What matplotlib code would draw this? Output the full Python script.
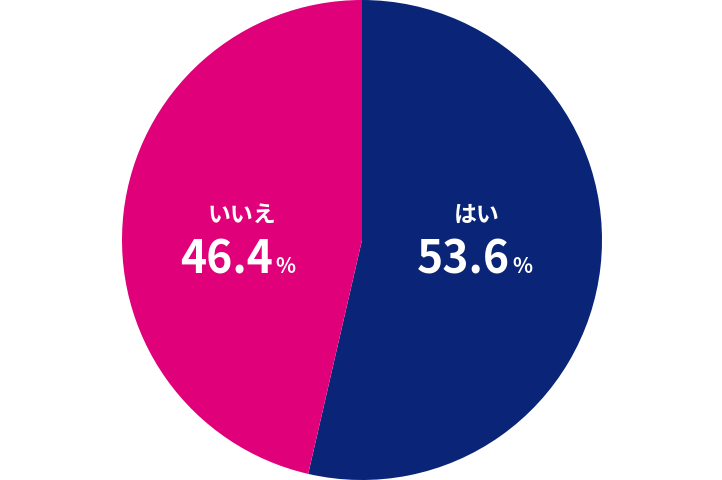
import matplotlib.pyplot as plt

plt.rcParams['font.family'] = ['Noto Sans CJK JP', 'DejaVu Sans']

labels = ['はい', 'いいえ']
values = [53.6, 46.4]
colors = ['#0a2577', '#e0007a']

fig = plt.figure(figsize=(7.22, 4.8), dpi=100)
ax = fig.add_axes([0, 0, 1, 1])
ax.pie(values, colors=colors, startangle=90, counterclock=False, radius=1.0,
       wedgeprops=dict(linewidth=0))
ax.set_xlim(-362 / 240, 360 / 240)
ax.set_ylim(-1, 1)
ax.set_aspect('equal')
ax.axis('off')

# label positions (name x, number right edge)
name_x = [0.48, -0.5]
num_right = [0.617, -0.371]
for lab, val, nx, nr in zip(labels, values, name_x, num_right):
    ax.text(nx, 0.104, lab, color='white', fontsize=16.5, fontweight='bold',
            ha='center', va='center')
    ax.text(nr, -0.1375, f'{val:.1f}', color='white', fontsize=32, fontweight='bold',
            ha='right', va='baseline')
    ax.text(nr + 0.008, -0.1375, '%', color='white', fontsize=15, fontweight='bold',
            ha='left', va='baseline')

fig.savefig('out.png', dpi=100)
